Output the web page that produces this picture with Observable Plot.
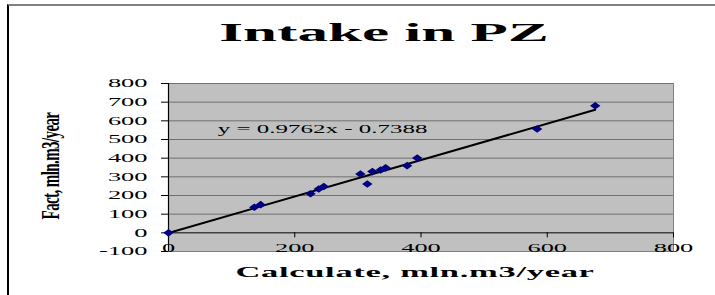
<!DOCTYPE html>
<html>
<head>
<meta charset="utf-8">
<script src="https://cdn.jsdelivr.net/npm/d3@7"></script>
<script src="https://cdn.jsdelivr.net/npm/@observablehq/plot@0.6"></script>
<style>
  html, body { margin: 0; padding: 0; background: #fff; }
  #wrap { position: relative; width: 715px; height: 295px; overflow: hidden; font-family: "Liberation Serif", "DejaVu Serif", serif; }
  #box { position: absolute; left: 7px; top: 4px; width: 800px; height: 400px; border-top: 2px solid #808080; border-left: 2px solid #000; }
  .lbl { position: absolute; white-space: nowrap; font-weight: bold; line-height: 1; color: #000; }
  #title { left: 384px; top: 33px; font-size: 26px; transform: translate(-50%, -50%) scaleX(2.35); }
  #xlabel { left: 415px; top: 272px; font-size: 15px; transform: translate(-50%, -50%) scaleX(2.3); letter-spacing: 0.3px; }
  #ylabel { left: 51px; top: 166px; font-size: 15px; letter-spacing: -0.6px; transform: translate(-50%, -50%) scaleX(1.7) rotate(-90deg); }
  #chart { position: absolute; left: 0; top: 0; }
</style>
</head>
<body>
<div id="wrap">
  <div id="box"></div>
  <div id="chart"></div>
  <div id="title" class="lbl">Intake in PZ</div>
  <div id="xlabel" class="lbl">Calculate, mln.m3/year</div>
  <div id="ylabel" class="lbl">Fact, mln.m3/year</div>
</div>
<script>
// Data
const calculated = [0, 136, 146, 225, 238, 246, 304, 315, 323, 336, 344, 378, 394, 584, 676];
const fact       = [0, 137, 151, 209, 235, 248, 315, 262, 328, 337, 348, 360, 401, 556, 681];

// Trend line coefficients (as printed on the chart)
const slope = 0.9762;
const intercept = -0.7388;
const equationText = "y = 0.9762x - 0.7388";
const equationAt = {x: 78, y: 558};

// Axis ticks
const xTicks = [0, 200, 400, 600, 800];
const yTicks = [-100, 0, 100, 200, 300, 400, 500, 600, 700, 800];
const gridLines = [100, 200, 300, 400, 500, 600, 700, 800];

const points = calculated.map((x, i) => ({x, y: fact[i]}));
const maxX = d3.max(calculated);
const trend = [0, maxX].map(x => ({x, y: slope * x + intercept}));

// wide diamond marker
const wideDiamond = {
  draw(context, size) {
    const w = 5.2, h = 3.8;
    context.moveTo(0, -h);
    context.lineTo(w, 0);
    context.lineTo(0, h);
    context.lineTo(-w, 0);
    context.closePath();
  }
};

const chart = Plot.plot({
  width: 715,
  height: 295,
  marginTop: 83,
  marginBottom: 44,
  marginLeft: 168,
  marginRight: 42,
  style: {fontFamily: "Liberation Serif", fontSize: "12px", background: "transparent", overflow: "visible", color: "#000"},
  x: {domain: [0, 800], axis: null},
  y: {domain: [-100, 800], axis: null},
  marks: [
    Plot.frame({fill: "#c0c0c0", stroke: "#808080"}),
    Plot.ruleY(gridLines, {stroke: "#707070", strokeWidth: 1}),
    Plot.ruleY([0], {stroke: "#000", strokeWidth: 1}),
    Plot.ruleX([0], {stroke: "#000", strokeWidth: 1.2}),
    // y tick marks (to the left of the axis)
    Plot.ruleY(yTicks, {y: d => d, x1: 0, x2: 0, insetLeft: -7, stroke: "#000"}),
    // x tick marks (below the zero line)
    Plot.ruleX(xTicks, {x: d => d, y1: 0, y2: 0, insetTop: 5, stroke: "#000"}),
    Plot.line(trend, {x: "x", y: "y", stroke: "#000", strokeWidth: 2}),
    Plot.dot(points, {x: "x", y: "y", symbol: wideDiamond, fill: "#000080", stroke: "none"}),
    Plot.text(yTicks, {x: 0, y: d => d, text: d => String(d), dx: -21, textAnchor: "end", fontSize: 12, fill: "#000"}),
    Plot.text(xTicks, {x: d => d, y: -100, text: d => String(d), dy: -3, textAnchor: "middle", fontSize: 12, fill: "#000"}),
    Plot.text([equationText], {x: equationAt.x, y: equationAt.y, text: d => d, textAnchor: "start", fontSize: 13.5, fill: "#000"})
  ]
});

document.getElementById("chart").appendChild(chart);

// stretch the text horizontally like the original picture
chart.querySelectorAll("text").forEach(t => {
  const len = t.getComputedTextLength();
  const f = t.textContent.startsWith("y =") ? 1.85 : 2.2;
  t.setAttribute("textLength", (len * f).toFixed(1));
  t.setAttribute("lengthAdjust", "spacingAndGlyphs");
});
</script>
</body>
</html>
